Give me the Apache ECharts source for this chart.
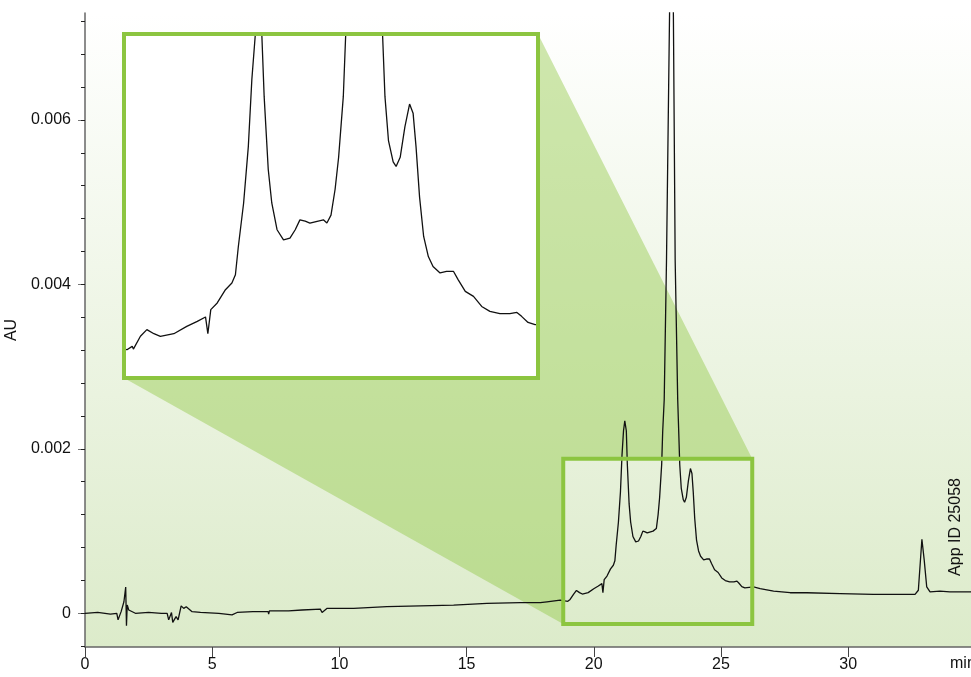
<!DOCTYPE html>
<html>
<head>
<meta charset="utf-8">
<title>App ID 25058</title>
<script src="https://cdn.jsdelivr.net/npm/echarts@6/dist/echarts.min.js"></script>
<style>
  html, body { margin: 0; padding: 0; background: #fff; }
  #main { width: 971px; height: 677px; }
</style>
</head>
<body>
<div id="main"></div>
<script>
// chromatogram (min, AU)
var retentionTime = [
  0, 0.5, 1.0, 1.25, 1.30, 1.42, 1.53, 1.60, 1.63, 1.66, 1.72, 1.98, 2.5, 3.0,
  3.23, 3.29, 3.40, 3.45, 3.58, 3.66, 3.78, 3.88, 3.98, 4.21, 4.54, 5.26, 5.78,
  5.98, 6.6, 7.20, 7.22, 7.25, 8.0, 8.53, 9.25, 9.32, 9.52, 10.56, 11.87, 13.18,
  14.49, 15.80, 17.11, 17.9, 18.16, 18.68, 18.98, 19.07, 19.09, 19.21, 19.32,
  19.44, 19.55, 19.78, 20.00, 20.18, 20.32, 20.36, 20.41, 20.52, 20.66, 20.77,
  20.83, 20.88, 20.97, 21.05, 21.11, 21.17, 21.22, 21.28, 21.32, 21.39, 21.45,
  21.54, 21.65, 21.76, 21.85, 21.93, 22.02, 22.10, 22.33, 22.39, 22.46, 22.53,
  22.59, 22.67, 22.71, 22.77, 22.86, 22.98, 23.04, 23.13, 23.20, 23.30, 23.34,
  23.38, 23.44, 23.52, 23.57, 23.64, 23.72, 23.80, 23.86, 23.91, 23.97, 24.04,
  24.12, 24.20, 24.32, 24.43, 24.55, 24.63, 24.75, 24.89, 25.03, 25.17, 25.34,
  25.51, 25.63, 25.71, 25.82, 25.94, 26.28, 26.54, 27.07, 27.72, 28.38, 29.69,
  30.99, 32.63, 32.76, 32.90, 32.99, 33.09, 33.22, 33.61, 34.0, 34.83
];
var absorbance = [
  0, 0.00001, -0.00001, 0, -0.00008, 0.00002, 0.00014, 0.00032, -0.00015, 0.00010,
  0.00004, 0, 0.00001, 0, 0, -0.00008, 0.00001, -0.00011, -0.00004, -0.00008,
  0.00009, 0.00006, 0.00008, 0.00002, 0.00001, 0, -0.00002, 0.00001, 0.00002,
  0.00002, -0.00001, 0.00003, 0.00003, 0.00004, 0.00005, 0.00001, 0.00006,
  0.00006, 0.00008, 0.00009, 0.00010, 0.00012, 0.00013, 0.00013, 0.00014,
  0.00016, 0.000146, 0.000168, 0.00015, 0.000234, 0.000278, 0.000251, 0.000234,
  0.000251, 0.000299, 0.000332, 0.000361, 0.000251, 0.000409, 0.000453, 0.00054,
  0.000584, 0.000638, 0.000824, 0.00111, 0.00148, 0.00192, 0.00222, 0.00234,
  0.00222, 0.00181, 0.00133, 0.00111, 0.000934, 0.000868, 0.000879, 0.000934,
  0.000999, 0.00099, 0.000978, 0.000999, 0.000978, 0.00103, 0.00120, 0.00141,
  0.00181, 0.00221, 0.0026, 0.0043, 0.0073, 0.0094, 0.0073, 0.0043, 0.0026,
  0.00221, 0.00181, 0.00152, 0.00138, 0.00135, 0.00141, 0.00161, 0.00176, 0.00170,
  0.00148, 0.00115, 0.00089, 0.000758, 0.000693, 0.00065, 0.00066, 0.00066,
  0.000605, 0.000529, 0.000496, 0.00043, 0.000398, 0.000383, 0.000383, 0.000391,
  0.000365, 0.000325, 0.00031, 0.00032, 0.00030, 0.00027, 0.00025, 0.00025,
  0.00024, 0.00023, 0.00023, 0.00028, 0.00090, 0.00065, 0.00032, 0.00026,
  0.00027, 0.00026, 0.00026
];

var timeTicks = [0, 5, 10, 15, 20, 25, 30];
var auLabels = [0, 0.002, 0.004, 0.006];
var auMinorTicks = [-0.0004, 0, 0.0004, 0.0008, 0.0012, 0.0016, 0.002, 0.0024, 0.0028,
  0.0032, 0.0036, 0.004, 0.0044, 0.0048, 0.0052, 0.0056, 0.006, 0.0064, 0.0068, 0.0072];

var timeRange = [0, 34.83];
var auRange = [-0.00041, 0.0073];
// the boxed part of the trace and the range shown enlarged
var zoomTime = [18.80, 26.23];
var zoomAU = [-0.00013, 0.00188];
var insetTime = [18.93, 25.99];
var insetAU = [-0.00004, 0.00222];

var trace = [];
for (var i = 0; i < retentionTime.length; i++) {
  trace.push([retentionTime[i], absorbance[i]]);
}

var green = '#8cc540';
var font = "'Liberation Sans', Arial, Helvetica, sans-serif";

var myChart = echarts.init(document.getElementById('main'));

option = {
  animation: false,
  grid: [
    { left: 85, right: 0, top: 13, bottom: 30, outerBoundsMode: 'none', containLabel: false },
    { left: 124, top: 34, width: 414, height: 344, outerBoundsMode: 'none', containLabel: false }
  ],
  xAxis: [
    {
      type: 'value', gridIndex: 0, min: timeRange[0], max: timeRange[1],
      splitLine: { show: false },
      axisLine: { onZero: false, lineStyle: { color: '#666', width: 1.5 } },
      axisTick: { customValues: timeTicks, length: 10, lineStyle: { color: '#444' } },
      axisLabel: { customValues: timeTicks, margin: 10, color: '#111', fontSize: 16, fontFamily: font }
    },
    { type: 'value', gridIndex: 1, min: insetTime[0], max: insetTime[1], show: false }
  ],
  yAxis: [
    {
      type: 'value', gridIndex: 0, min: auRange[0], max: auRange[1],
      name: 'AU', nameLocation: 'middle', nameRotate: 90, nameGap: 64,
      nameTextStyle: { color: '#111', fontSize: 16, fontFamily: font },
      splitLine: { show: false },
      axisLine: { onZero: false, lineStyle: { color: '#666', width: 1.5 } },
      axisTick: { customValues: auLabels, length: 7, lineStyle: { color: '#777' } },
      axisLabel: {
        customValues: auLabels, margin: 14, color: '#111', fontSize: 16, fontFamily: font,
        formatter: function (v) { return v === 0 ? '0' : v.toFixed(3); }
      }
    },
    {
      type: 'value', gridIndex: 0, min: auRange[0], max: auRange[1], position: 'left',
      splitLine: { show: false },
      axisLine: { show: false, onZero: false },
      axisLabel: { show: false },
      axisTick: { customValues: auMinorTicks, length: 4, lineStyle: { color: '#222' } }
    },
    { type: 'value', gridIndex: 1, min: insetAU[0], max: insetAU[1], show: false }
  ],
  series: [
    {
      type: 'line', xAxisIndex: 0, yAxisIndex: 0, data: trace,
      showSymbol: false, sampling: 'none', z: 3,
      lineStyle: { color: '#111', width: 1.3 }
    },
    {
      type: 'line', xAxisIndex: 1, yAxisIndex: 2, data: trace,
      showSymbol: false, sampling: 'none', z: 6, clip: true,
      lineStyle: { color: '#111', width: 1.3 }
    }
  ]
};
myChart.setOption(option);

// decorations placed from the axes
var g0 = myChart.convertToPixel({ gridIndex: 0 }, [timeRange[0], auRange[1]]);
var g1 = myChart.convertToPixel({ gridIndex: 0 }, [timeRange[1], auRange[0]]);
var b0 = myChart.convertToPixel({ gridIndex: 0 }, [zoomTime[0], zoomAU[1]]);
var b1 = myChart.convertToPixel({ gridIndex: 0 }, [zoomTime[1], zoomAU[0]]);
var i0 = myChart.convertToPixel({ gridIndex: 1 }, [insetTime[0], insetAU[1]]);
var i1 = myChart.convertToPixel({ gridIndex: 1 }, [insetTime[1], insetAU[0]]);

myChart.setOption({
  graphic: [
    {
      type: 'rect', z: -1, silent: true,
      shape: { x: g0[0], y: g0[1], width: g1[0] - g0[0], height: g1[1] - g0[1] },
      style: {
        fill: new echarts.graphic.LinearGradient(0, 0, 0, 1, [
          { offset: 0, color: '#ffffff' },
          { offset: 1, color: '#dcebca' }
        ])
      }
    },
    {
      type: 'polygon', z: 1, silent: true,
      shape: { points: [[i0[0], i1[1]], [i1[0], i0[1]], [b1[0], b0[1]], [b0[0], b0[1]], [b0[0], b1[1]]] },
      style: { fill: 'rgba(141,198,63,0.42)' }
    },
    {
      type: 'rect', z: 4, silent: true,
      shape: { x: b0[0], y: b0[1], width: b1[0] - b0[0], height: b1[1] - b0[1] },
      style: { fill: null, stroke: green, lineWidth: 4 }
    },
    {
      type: 'rect', z: 5, silent: true,
      shape: { x: i0[0], y: i0[1], width: i1[0] - i0[0], height: i1[1] - i0[1] },
      style: { fill: '#fff' }
    },
    {
      type: 'rect', z: 7, silent: true,
      shape: { x: i0[0], y: i0[1], width: i1[0] - i0[0], height: i1[1] - i0[1] },
      style: { fill: null, stroke: green, lineWidth: 4 }
    },
    {
      type: 'text', z: 10, x: 950, y: 664,
      style: { text: 'min', fill: '#111', font: '16px ' + font, verticalAlign: 'middle' }
    },
    {
      type: 'text', z: 10, x: 956, y: 527, rotation: Math.PI / 2,
      style: { text: 'App ID 25058', fill: '#111', font: '16px ' + font, align: 'center', verticalAlign: 'middle' }
    }
  ]
});
</script>
</body>
</html>
